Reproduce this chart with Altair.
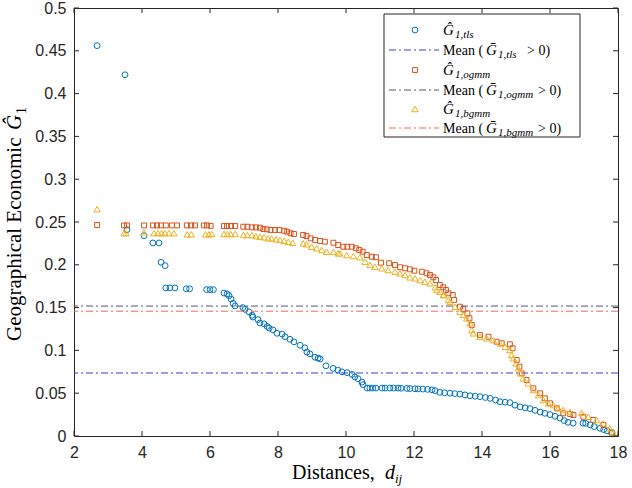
import altair as alt
import pandas as pd

# ---- data -----------------------------------------------------------------
# TLS estimates of the geographical economic index against distance
tls_x = [2.68, 3.50, 3.56, 4.06, 4.32, 4.50, 4.56, 4.68, 4.70, 4.82,
         4.97, 5.30, 5.40, 5.90, 6.00, 6.10, 6.41, 6.50, 6.56, 6.62,
         6.68, 6.74, 6.97, 7.03, 7.15, 7.24, 7.26, 7.41, 7.47, 7.59,
         7.68, 7.74, 7.85, 7.97, 8.12, 8.21, 8.35, 8.47, 8.65, 8.79,
         8.85, 8.94, 9.09, 9.18, 9.24, 9.41, 9.62, 9.76, 9.88, 10.03,
         10.18, 10.26, 10.35, 10.47, 10.50, 10.62, 10.70, 10.79, 10.88, 11.06,
         11.15, 11.29, 11.40, 11.53, 11.62, 11.79, 11.88, 12.03, 12.12, 12.26,
         12.40, 12.53, 12.62, 12.76, 12.90, 13.06, 13.20, 13.35, 13.50, 13.65,
         13.80, 13.94, 14.10, 14.24, 14.40, 14.53, 14.68, 14.82, 14.97, 15.12,
         15.27, 15.41, 15.56, 15.71, 15.85, 16.00, 16.15, 16.29, 16.42, 16.53,
         16.68, 16.97, 17.05, 17.18, 17.30, 17.47, 17.58, 17.68, 17.82]
tls_y = [0.456, 0.422, 0.241, 0.234, 0.2255, 0.2255, 0.203, 0.199, 0.173, 0.173,
         0.173, 0.172, 0.172, 0.171, 0.171, 0.171, 0.167, 0.166, 0.164, 0.160,
         0.155, 0.152, 0.150, 0.148, 0.145, 0.141, 0.139, 0.136, 0.132, 0.131,
         0.128, 0.126, 0.124, 0.120, 0.119, 0.116, 0.113, 0.110, 0.106, 0.103,
         0.098, 0.096, 0.092, 0.091, 0.090, 0.082, 0.079, 0.077, 0.075, 0.074,
         0.072, 0.069, 0.067, 0.063, 0.060, 0.056, 0.056, 0.056, 0.056, 0.056,
         0.056, 0.056, 0.056, 0.056, 0.0558, 0.0556, 0.0554, 0.0552, 0.055, 0.0548,
         0.0545, 0.054, 0.053, 0.051, 0.0505, 0.050, 0.0495, 0.049, 0.048, 0.047,
         0.0465, 0.046, 0.045, 0.044, 0.042, 0.040, 0.0395, 0.039, 0.036, 0.034,
         0.033, 0.032, 0.030, 0.028, 0.0265, 0.025, 0.023, 0.021, 0.018, 0.016,
         0.015, 0.015, 0.0148, 0.013, 0.011, 0.009, 0.0075, 0.006, 0.004]

# One-step GMM estimates
ogmm_x = [2.68, 3.47, 3.56, 4.06, 4.32, 4.44, 4.56, 4.70, 4.88, 5.03,
          5.32, 5.44, 5.56, 5.82, 5.91, 6.02, 6.41, 6.50, 6.62, 6.74,
          6.98, 7.10, 7.23, 7.35, 7.47, 7.57, 7.67, 7.78, 7.91, 8.04,
          8.18, 8.27, 8.37, 8.47, 8.74, 8.84, 8.96, 9.09, 9.24, 9.38,
          9.63, 9.77, 9.92, 10.04, 10.17, 10.29, 10.39, 10.49, 10.61, 10.76,
          10.88, 11.03, 11.27, 11.44, 11.59, 11.74, 11.88, 12.01, 12.23, 12.37,
          12.47, 12.57, 12.65, 12.76, 12.86, 12.94, 13.01, 13.14, 13.18, 13.35,
          13.45, 13.57, 13.63, 13.70, 13.94, 14.19, 14.43, 14.58, 14.82, 14.90,
          15.02, 15.10, 15.17, 15.31, 15.51, 15.71, 15.85, 16.00, 16.20, 16.39,
          16.59, 16.69, 16.98, 17.27, 17.57, 17.81]
ogmm_y = [0.2465, 0.246, 0.246, 0.246, 0.246, 0.246, 0.246, 0.246, 0.246, 0.246,
          0.246, 0.246, 0.246, 0.246, 0.246, 0.2455, 0.2453, 0.2453, 0.2453, 0.2453,
          0.2445, 0.2445, 0.2437, 0.2437, 0.2434, 0.2418, 0.2414, 0.2407, 0.2407, 0.2407,
          0.2398, 0.2387, 0.2368, 0.236, 0.2348, 0.2336, 0.2309, 0.229, 0.2278, 0.227,
          0.2258, 0.2231, 0.2211, 0.2211, 0.2211, 0.2193, 0.2173, 0.2153, 0.2114, 0.2094,
          0.2088, 0.2025, 0.2018, 0.1998, 0.1971, 0.1959, 0.1947, 0.1931, 0.1919, 0.1901,
          0.1881, 0.1854, 0.1822, 0.1764, 0.1737, 0.1706, 0.1667, 0.1647, 0.1589, 0.151,
          0.148, 0.1433, 0.1375, 0.1297, 0.118, 0.116, 0.1102, 0.1083, 0.1071, 0.1025,
          0.0888, 0.081, 0.0732, 0.0654, 0.0557, 0.0499, 0.044, 0.0382, 0.0324, 0.0265,
          0.0257, 0.0245, 0.0225, 0.0187, 0.0129, 0.0039]

# Bias-corrected GMM estimates
bgmm_x = [2.68, 3.47, 3.53, 4.06, 4.35, 4.47, 4.57, 4.67, 4.79, 4.94,
          5.33, 5.45, 5.87, 5.97, 6.05, 6.41, 6.51, 6.61, 6.74, 6.98,
          7.10, 7.23, 7.35, 7.47, 7.59, 7.71, 7.81, 7.94, 8.06, 8.18,
          8.30, 8.43, 8.74, 8.84, 8.99, 9.14, 9.29, 9.43, 9.63, 9.77,
          9.82, 10.02, 10.22, 10.41, 10.56, 10.71, 10.85, 11.05, 11.24, 11.44,
          11.59, 11.74, 11.88, 12.03, 12.18, 12.32, 12.47, 12.62, 12.67, 12.76,
          12.86, 12.88, 13.01, 13.06, 13.21, 13.35, 13.45, 13.55, 13.65, 13.70,
          13.74, 13.94, 14.14, 14.33, 14.53, 14.68, 14.82, 14.87, 14.92, 15.00,
          15.07, 15.12, 15.21, 15.36, 15.51, 15.66, 15.80, 15.95, 16.10, 16.24,
          16.39, 16.59, 16.93, 17.13, 17.37, 17.57, 17.76, 17.86]
bgmm_y = [0.265, 0.237, 0.237, 0.238, 0.237, 0.237, 0.237, 0.237, 0.237, 0.237,
          0.2356, 0.2356, 0.2356, 0.2356, 0.236, 0.236, 0.236, 0.236, 0.236, 0.2348,
          0.2348, 0.2348, 0.2336, 0.2328, 0.2321, 0.2309, 0.2309, 0.2298, 0.229, 0.2282,
          0.227, 0.2258, 0.2251, 0.224, 0.2211, 0.2193, 0.2173, 0.2153, 0.2153, 0.2134,
          0.2134, 0.2114, 0.2103, 0.2088, 0.2036, 0.1998, 0.1978, 0.1959, 0.1939, 0.1919,
          0.1901, 0.1881, 0.1854, 0.1842, 0.1822, 0.1803, 0.1784, 0.1737, 0.1706, 0.1686,
          0.1647, 0.1647, 0.1589, 0.1569, 0.151, 0.1452, 0.1414, 0.1375, 0.1317, 0.1238,
          0.12, 0.116, 0.1141, 0.1121, 0.1083, 0.1043, 0.1005, 0.0946, 0.0908, 0.0849,
          0.0791, 0.0733, 0.0674, 0.0616, 0.0537, 0.0479, 0.0421, 0.0382, 0.0362, 0.0324,
          0.0304, 0.0284, 0.0272, 0.0225, 0.0187, 0.0148, 0.009, 0.0039]

# Means of the positive estimates
mean_tls = 0.0736
mean_ogmm = 0.1518
mean_bgmm = 0.1458

x_ticks = [2, 4, 6, 8, 10, 12, 14, 16, 18]
y_ticks = [0, 0.05, 0.1, 0.15, 0.2, 0.25, 0.3, 0.35, 0.4, 0.45, 0.5]

# ---- style ----------------------------------------------------------------
W, H = 544, 428
INK = "#262626"
SANS = "Liberation Sans"
SERIF = "Liberation Serif"
C_TLS = "#0072BD"
C_OGMM = "#D95319"
C_BGMM = "#EDB120"
C_MEAN_TLS = "#3c3cd2"
C_MEAN_OGMM = "#55557a"
C_MEAN_BGMM = "#f06a5a"
DASHDOT = [7, 3, 2, 3]
SZ_CIRCLE, SZ_SQUARE, SZ_TRI = 34, 24, 40

xs = alt.Scale(domain=[2, 18], nice=False, zero=False)
ys = alt.Scale(domain=[0, 0.5], nice=False, zero=False)
AX_X = alt.Axis(values=x_ticks, title=None, labelFlush=False, format="~g")
AX_Y = alt.Axis(values=y_ticks, title=None, labelFlush=False, format="~g")
anchor = pd.DataFrame({"k": [0]})


def X(field):
    return alt.X(field, scale=xs, axis=AX_X)


def Y(field):
    return alt.Y(field, scale=ys, axis=AX_Y)


def scatter(xv, yv, shape, color, size):
    df = pd.DataFrame({"d": xv, "g": yv})
    return alt.Chart(df).mark_point(
        shape=shape, filled=False, color=color, size=size, strokeWidth=1, opacity=1
    ).encode(x=X("d:Q"), y=Y("g:Q"))


def mean_rule(v, color):
    return alt.Chart(pd.DataFrame({"m": [v]})).mark_rule(
        color=color, strokeWidth=1, strokeDash=DASHDOT
    ).encode(y=Y("m:Q"))


def text(s, x, y, size, style="normal", angle=0):
    return alt.Chart(anchor).mark_text(
        text=s, align="left", baseline="alphabetic", font=SERIF,
        fontSize=size, fontStyle=style, color="black", angle=angle,
    ).encode(x=alt.value(x), y=alt.value(y))


# inward tick marks on all four sides of the box
xt = pd.DataFrame({"t": x_ticks})
yt = pd.DataFrame({"t": y_ticks})
tick_style = dict(color=INK, strokeWidth=1)
ticks = [
    alt.Chart(xt).mark_rule(**tick_style).encode(
        x=X("t:Q"), y=alt.value(H), y2=alt.value(H - 5)),
    alt.Chart(xt).mark_rule(**tick_style).encode(
        x=X("t:Q"), y=alt.value(0), y2=alt.value(5)),
    alt.Chart(yt).mark_rule(**tick_style).encode(
        y=Y("t:Q"), x=alt.value(0), x2=alt.value(5)),
    alt.Chart(yt).mark_rule(**tick_style).encode(
        y=Y("t:Q"), x=alt.value(W), x2=alt.value(W - 5)),
]

data_layers = [
    scatter(tls_x, tls_y, "circle", C_TLS, SZ_CIRCLE),
    mean_rule(mean_tls, C_MEAN_TLS),
    scatter(ogmm_x, ogmm_y, "square", C_OGMM, SZ_SQUARE),
    mean_rule(mean_ogmm, C_MEAN_OGMM),
    scatter(bgmm_x, bgmm_y, "triangle-up", C_BGMM, SZ_TRI),
    mean_rule(mean_bgmm, C_MEAN_BGMM),
]

# ---- legend ---------------------------------------------------------------
LX0, LX1, LY0, LY1 = 310, 506, 6, 129
rows = [22, 42, 62, 82, 101, 120]
MX, L0, L1, TX = 341, 315, 365, 369
legend = [
    alt.Chart(anchor).mark_rect(fill="white", stroke=INK, strokeWidth=1).encode(
        x=alt.value(LX0), x2=alt.value(LX1), y=alt.value(LY0), y2=alt.value(LY1)),
]
entries = [
    ("circle", C_TLS, SZ_CIRCLE, C_MEAN_TLS, "1,tls", 453),
    ("square", C_OGMM, SZ_SQUARE, C_MEAN_OGMM, "1,ogmm", 464),
    ("triangle-up", C_BGMM, SZ_TRI, C_MEAN_BGMM, "1,bgmm", 464),
]
for i, (shape, col, sz, mcol, sub, gt_x) in enumerate(entries):
    ym = rows[2 * i]
    yl = rows[2 * i + 1]
    legend.append(alt.Chart(anchor).mark_point(
        shape=shape, filled=False, color=col, size=sz, strokeWidth=1, opacity=1
    ).encode(x=alt.value(MX), y=alt.value(ym)))
    legend.append(text("Ĝ", TX, ym + 5, 15, "italic"))
    legend.append(text(sub, TX + 12, ym + 8, 11, "italic"))
    legend.append(alt.Chart(anchor).mark_rule(
        color=mcol, strokeWidth=1, strokeDash=DASHDOT
    ).encode(x=alt.value(L0), x2=alt.value(L1), y=alt.value(yl)))
    legend.append(text("Mean (", TX, yl + 5, 14))
    legend.append(text("Ḡ", TX + 43, yl + 5, 15, "italic"))
    legend.append(text(sub, TX + 55, yl + 8, 11, "italic"))
    legend.append(text("> 0)", gt_x, yl + 5, 14))

# ---- axis titles ----------------------------------------------------------
titles = [
    text("Distances,", 218, 471, 20),
    text("d", 311, 471, 20, "italic"),
    text("ij", 321, 475, 13, "italic"),
    text("Geographical Economic", -53, 333, 21, angle=270),
    text("Ĝ", -53, 122, 21, "italic", angle=270),
    text("1", -48, 106, 14, angle=270),
]

chart = alt.layer(*data_layers, *ticks, *legend, *titles).properties(
    width=W,
    height=H,
    autosize=alt.AutoSizeParams(type="none"),
    padding={"left": 74, "top": 8, "right": 14, "bottom": 52},
    background="white",
).configure_view(
    stroke=INK, strokeWidth=1
).configure_axis(
    grid=False, domain=False, ticks=False, labelFont=SANS, labelFontSize=16,
    labelColor=INK, labelPadding=8, labelOverlap=False,
)

chart.save("out.html", embed_options={"renderer": "svg", "actions": False})
